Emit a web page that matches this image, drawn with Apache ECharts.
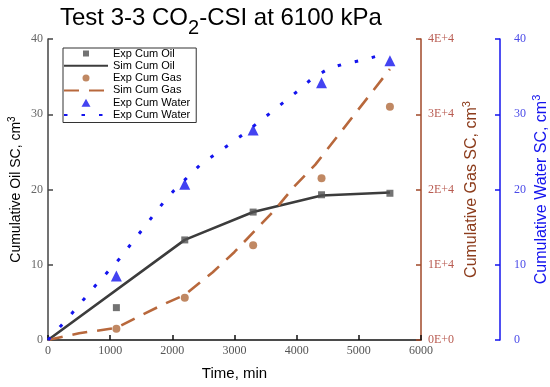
<!DOCTYPE html>
<html><head><meta charset="utf-8">
<script src="https://cdn.jsdelivr.net/npm/echarts@6/dist/echarts.min.js"></script>
<style>html,body{margin:0;padding:0;background:#fff}#c{width:550px;height:387px}</style>
</head><body><div id="c"></div>
<script>
// ---- data ----
const xTickValues = [0, 1000, 2000, 3000, 4000, 5000, 6000];
const gasTickLabels = ['0E+0', '1E+4', '2E+4', '3E+4', '4E+4'];
const expTime = [1100, 2200, 3300, 4400, 5500];
const expOil = [4.3, 13.3, 17.0, 19.3, 19.5];
const expGas = [1500, 5600, 12600, 21500, 31000];
const expWater = [8.5, 20.7, 27.9, 34.2, 37.1];
const simOilTime = [0, 2200, 3300, 4400, 5500];
const simOil = [0, 13.3, 17.0, 19.2, 19.6];
const simGasTime = [0, 500, 1100, 1500, 1900, 2200, 2650, 3000, 3650, 3950, 4300, 5500];
const simGas = [0, 900, 1600, 3300, 4900, 6000, 9000, 11700, 17300, 20300, 23300, 36000];
const simWaterTime = [0, 210, 390, 760, 1150, 1500, 1850, 2030, 2450, 2900, 3150, 3580, 4020, 4240, 4520, 4770, 5070, 5400];
const simWater = [0, 1.9, 3.6, 7.2, 10.8, 14.5, 18.2, 19.9, 23.3, 25.9, 27.4, 30.2, 33.1, 34.7, 36.1, 36.7, 37.2, 38.0];

const zip = (xs, ys) => xs.map((x, i) => [x, ys[i]]);

const oilCol = '#3c3c3c', gasCol = '#b8683c', gasAxisCol = '#a04828', gasLblCol = '#b85a50', waterCol = '#1414ee';
const serif = 'Liberation Serif';
const sans = 'Liberation Sans';

// legend icons (44 x 10 box, symbol centred)
const iconSquare = 'path://M0,0M44,10M19,2h6v6h-6z';
const iconCircle = 'path://M0,0M44,10M25.5,5A3.5,3.5,0,1,1,18.5,5A3.5,3.5,0,1,1,25.5,5Z';
const iconTriangle = 'path://M0,0M44,10M22,1L26.5,9L17.5,9Z';

const chart = echarts.init(document.getElementById('c'), null, {renderer: 'canvas'});
chart.setOption({
  animation: false,
  backgroundColor: '#fff',
  title: {
    text: '{a|Test 3-3 CO}{b|2}{a|-CSI at 6100 kPa}',
    left: 60, top: -1, padding: 0,
    textStyle: {
      fontWeight: 'normal',
      rich: {
        a: {fontSize: 24, fontFamily: sans, color: '#000', fontWeight: 'normal'},
        b: {fontSize: 20, fontFamily: sans, color: '#000', fontWeight: 'normal', padding: [19, 0, 0, 0]}
      }
    }
  },
  grid: {left: 48, right: 129, top: 39, bottom: 47, containLabel: false, outerBoundsMode: 'none'},
  legend: {
    orient: 'vertical', left: 63, top: 48,
    itemWidth: 44, itemHeight: 10, itemGap: 1.3,
    padding: [0, 6, 2, 0],
    borderColor: '#333', borderWidth: 1,
    formatter: n => n.trim(),
    textStyle: {fontSize: 11, fontFamily: sans, color: '#000', lineHeight: 10},
    data: [
      {name: 'Exp Cum Oil', icon: iconSquare},
      {name: 'Sim Cum Oil', itemStyle: {opacity: 0}},
      {name: 'Exp Cum Gas', icon: iconCircle},
      {name: 'Sim Cum Gas', itemStyle: {opacity: 0}},
      {name: 'Exp Cum Water', icon: iconTriangle},
      {name: 'Exp Cum Water ', itemStyle: {opacity: 0}}
    ]
  },
  xAxis: {
    type: 'value', min: 0, max: 6000, interval: 1000,
    name: 'Time, min', nameLocation: 'middle', nameGap: 26, nameMoveOverlap: false,
    nameTextStyle: {fontSize: 15, fontFamily: sans, color: '#000'},
    axisLine: {lineStyle: {color: '#111', width: 1.5}},
    axisTick: {inside: true, length: 5, lineStyle: {color: '#111', width: 1.5}},
    axisLabel: {fontSize: 12, fontFamily: serif, color: '#555', margin: 5,
      formatter: v => xTickValues.includes(v) ? String(v) : ''},
    splitLine: {show: false}
  },
  yAxis: [
    {
      type: 'value', position: 'left', min: 0, max: 40, interval: 10,
      name: '{m|Cumulative Oil SC, cm}{s|3}', nameLocation: 'middle', nameGap: 22, nameRotate: 90,
      nameMoveOverlap: false,
      nameTextStyle: {rich: {
        m: {fontSize: 14, fontFamily: sans, color: '#000'},
        s: {fontSize: 10, fontFamily: sans, color: '#000', padding: [0, 0, 9, 0]}
      }},
      axisLine: {show: true, lineStyle: {color: '#444', width: 1.5}},
      axisTick: {show: true, inside: true, length: 5, lineStyle: {color: '#444', width: 1.5}},
      axisLabel: {fontSize: 12, fontFamily: serif, color: '#666', margin: 5},
      splitLine: {show: false}
    },
    {
      type: 'value', position: 'right', offset: 0, min: 0, max: 40000, interval: 10000,
      name: '{m|Cumulative Gas SC, cm}{s|3}', nameLocation: 'middle', nameGap: 40, nameRotate: 90,
      nameMoveOverlap: false,
      nameTextStyle: {rich: {
        m: {fontSize: 16, fontFamily: sans, color: '#8c3c1c'},
        s: {fontSize: 11, fontFamily: sans, color: '#8c3c1c', padding: [0, 0, 10, 0]}
      }},
      axisLine: {show: true, lineStyle: {color: gasAxisCol, width: 1.5}},
      axisTick: {show: true, inside: true, length: 5, lineStyle: {color: gasAxisCol, width: 1.5}},
      axisLabel: {fontSize: 12, fontFamily: serif, color: gasLblCol, margin: 7,
        formatter: v => gasTickLabels[Math.round(v / 10000)]},
      splitLine: {show: false}
    },
    {
      type: 'value', position: 'right', offset: 79, min: 0, max: 40, interval: 10,
      name: '{m|Cumulative Water SC, cm}{s|3}', nameLocation: 'middle', nameGap: 31, nameRotate: 90,
      nameMoveOverlap: false,
      nameTextStyle: {rich: {
        m: {fontSize: 16, fontFamily: sans, color: waterCol},
        s: {fontSize: 11, fontFamily: sans, color: waterCol, padding: [0, 0, 10, 0]}
      }},
      axisLine: {show: true, lineStyle: {color: waterCol, width: 1.5}},
      axisTick: {show: true, inside: true, length: 5, lineStyle: {color: waterCol, width: 1.5}},
      axisLabel: {fontSize: 12, fontFamily: serif, color: '#4a4ae8', margin: 14},
      splitLine: {show: false}
    }
  ],
  series: [
    {name: 'Exp Cum Oil', type: 'scatter', yAxisIndex: 0, symbol: 'rect', symbolSize: 7,
      itemStyle: {color: '#505050'}, data: zip(expTime, expOil), z: 5},
    {name: 'Sim Cum Oil', type: 'line', yAxisIndex: 0, symbol: 'none',
      lineStyle: {color: oilCol, width: 2.6}, itemStyle: {color: oilCol}, data: zip(simOilTime, simOil), z: 3},
    {name: 'Exp Cum Gas', type: 'scatter', yAxisIndex: 1, symbol: 'circle', symbolSize: 8,
      itemStyle: {color: '#b06a3c'}, data: zip(expTime, expGas), z: 5},
    {name: 'Sim Cum Gas', type: 'line', yAxisIndex: 1, symbol: 'none',
      lineStyle: {color: gasCol, width: 2.6, type: [15, 10]}, itemStyle: {color: gasCol}, data: zip(simGasTime, simGas), z: 3},
    {name: 'Exp Cum Water', type: 'scatter', yAxisIndex: 2, symbol: 'triangle', symbolSize: 11,
      itemStyle: {color: waterCol}, data: zip(expTime, expWater), z: 5},
    {name: 'Exp Cum Water ', type: 'line', yAxisIndex: 2, symbol: 'none',
      lineStyle: {color: waterCol, width: 3, type: [3.5, 14]}, itemStyle: {color: waterCol}, data: zip(simWaterTime, simWater), z: 3}
  ]
});
</script>
</body></html>
